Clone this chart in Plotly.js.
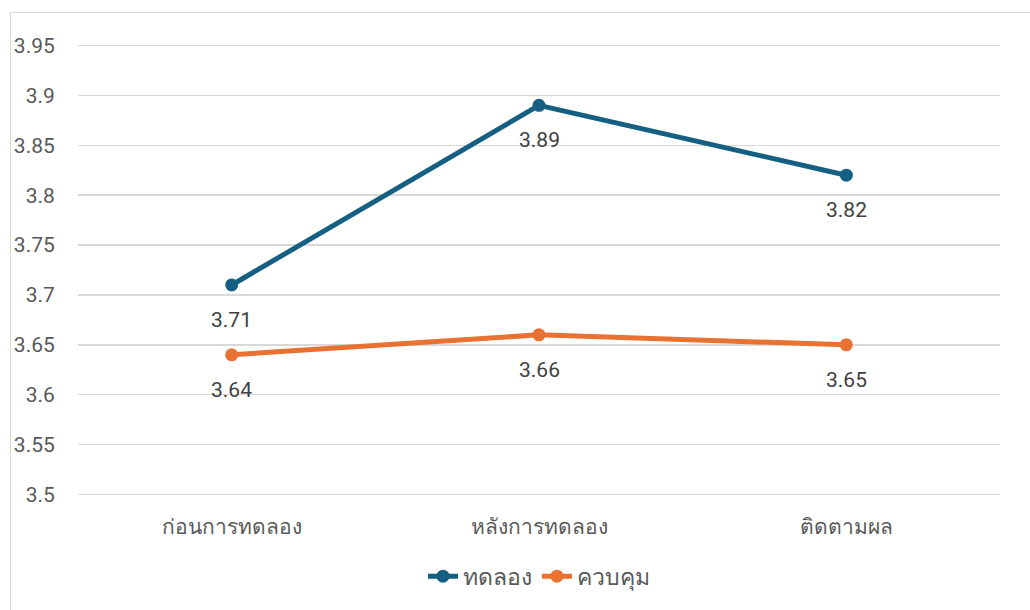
<!DOCTYPE html>
<html>
<head>
<meta charset="utf-8">
<script src="https://cdn.plot.ly/plotly-3.0.1.min.js"></script>
<style>
  html, body { margin: 0; padding: 0; background: #fff; }
  #wrap { position: relative; width: 1030px; height: 610px; overflow: hidden; }
  #chart { width: 1030px; height: 610px; }
  #frame { position: absolute; left: 10px; top: 12px; width: 1040px; height: 620px;
           border: 1px solid #d9d9d9; pointer-events: none; box-sizing: border-box; }
</style>
</head>
<body>
<div id="wrap">
  <div id="chart"></div>
  <div id="frame"></div>
</div>
<script>
const categories = ["ก่อนการทดลอง", "หลังการทดลอง", "ติดตามผล"];
const experimentName = "ทดลอง";
const experimentValues = [3.71, 3.89, 3.82];
const controlName = "ควบคุม";
const controlValues = [3.64, 3.66, 3.65];
const yTickVals = [3.5, 3.55, 3.6, 3.65, 3.7, 3.75, 3.8, 3.85, 3.9, 3.95];
const yTickText = ["3.5", "3.55", "3.6", "3.65", "3.7", "3.75", "3.8", "3.85", "3.9", "3.95"];

const blue = "#156082";
const orange = "#e97132";
const fontFam = "Roboto, 'Noto Sans', 'Liberation Sans', sans-serif";

const traces = [
  { x: categories, y: experimentValues, name: experimentName, type: "scatter", mode: "lines+markers",
    line: { color: blue, width: 5 }, marker: { color: blue, size: 13 } },
  { x: categories, y: controlValues, name: controlName, type: "scatter", mode: "lines+markers",
    line: { color: orange, width: 5 }, marker: { color: orange, size: 13 } }
];

const annotations = [];
[experimentValues, controlValues].forEach((vals) => {
  vals.forEach((v, i) => {
    annotations.push({ x: categories[i], y: v, xref: "x", yref: "y", text: v.toFixed(2),
      showarrow: false, yshift: -35, font: { size: 21, color: "#404040", family: fontFam } });
  });
});

const layout = {
  width: 1030, height: 610,
  margin: { l: 78, r: 30, t: 44, b: 110 },
  paper_bgcolor: "#fff", plot_bgcolor: "#fff",
  font: { family: fontFam, color: "#595959", size: 20 },
  showlegend: true,
  legend: { orientation: "h", x: 0.5, xanchor: "center", y: -0.13, yanchor: "top",
            font: { size: 23, color: "#595959" } },
  xaxis: { type: "category", range: [-0.5, 2.5], showgrid: false, zeroline: false, showline: false,
           ticks: "outside", ticklen: 12, tickcolor: "rgba(0,0,0,0)",
           tickfont: { size: 21, color: "#595959" } },
  yaxis: { range: [3.4985, 3.9515], tickvals: yTickVals, ticktext: yTickText,
           showgrid: true, gridcolor: "#d9d9d9", gridwidth: 1.5, zeroline: false, showline: false,
           ticks: "outside", ticklen: 18, tickcolor: "rgba(0,0,0,0)",
           tickfont: { size: 21, color: "#595959" } },
  annotations: annotations
};

Plotly.newPlot("chart", traces, layout, { displayModeBar: false, staticPlot: true });
</script>
</body>
</html>
